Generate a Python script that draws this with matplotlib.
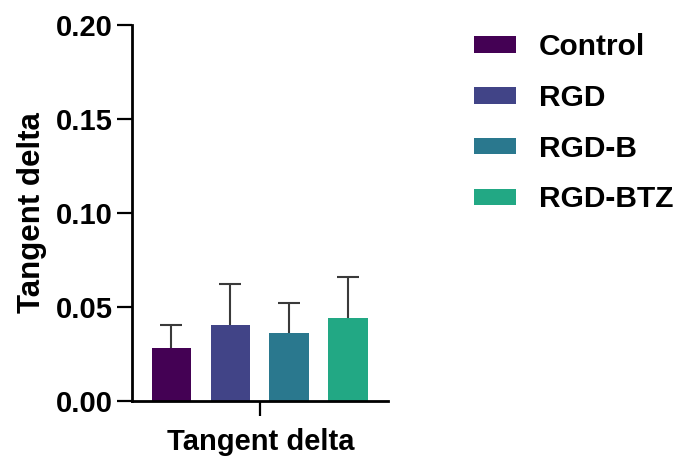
import matplotlib
matplotlib.use('Agg')
import matplotlib.pyplot as plt
from matplotlib.patches import Patch

groups = ["Control", "RGD", "RGD-B", "RGD-BTZ"]
means = [0.028, 0.040, 0.036, 0.044]
sds = [0.012, 0.022, 0.016, 0.022]
colors = ["#440154", "#414487", "#2A788E", "#22A884"]

plt.rcParams['font.family'] = ['Liberation Sans', 'DejaVu Sans']
plt.rcParams['font.weight'] = 'bold'

fig = plt.figure(figsize=(6.8, 4.57), dpi=100)
ax = fig.add_axes([0.1945, 0.1236, 0.3765, 0.8217])

x = range(len(groups))
ax.bar(x, means, width=0.67, color=colors, zorder=2)
# upper-only error bars, lower caps hidden
eb = ax.errorbar(x, means, yerr=[[0] * len(sds), sds], fmt='none',
                 ecolor='#3a3a3a', elinewidth=1.5, capsize=8, capthick=1.5, zorder=1)
eb[1][0].set_visible(False)

ax.set_xlim(-0.665, 3.684)
ax.set_ylim(0, 0.20)
ax.set_yticks([0.00, 0.05, 0.10, 0.15, 0.20])
ax.set_yticklabels(["0.00", "0.05", "0.10", "0.15", "0.20"])
ax.set_xticks([1.5])
ax.set_xticklabels([""])

for s in ['top', 'right']:
    ax.spines[s].set_visible(False)
for s in ['left', 'bottom']:
    ax.spines[s].set_linewidth(2.0)

ax.tick_params(axis='y', length=11, width=1.6, labelsize=21, pad=3)
ax.tick_params(axis='x', length=11, width=1.6)

ax.set_ylabel("Tangent delta", fontsize=22.5, fontweight='bold', labelpad=6)
ax.set_xlabel("Tangent delta", fontsize=21, fontweight='bold', labelpad=5)

handles = [Patch(facecolor=c, edgecolor='none') for c in colors]
fig.legend(handles, groups, loc='upper left', bbox_to_anchor=(0.6575, 0.986),
           frameon=False, fontsize=21.5, handlelength=1.4, handleheight=0.47,
           handletextpad=0.77, labelspacing=0.76)

fig.savefig("out.png", dpi=100)
